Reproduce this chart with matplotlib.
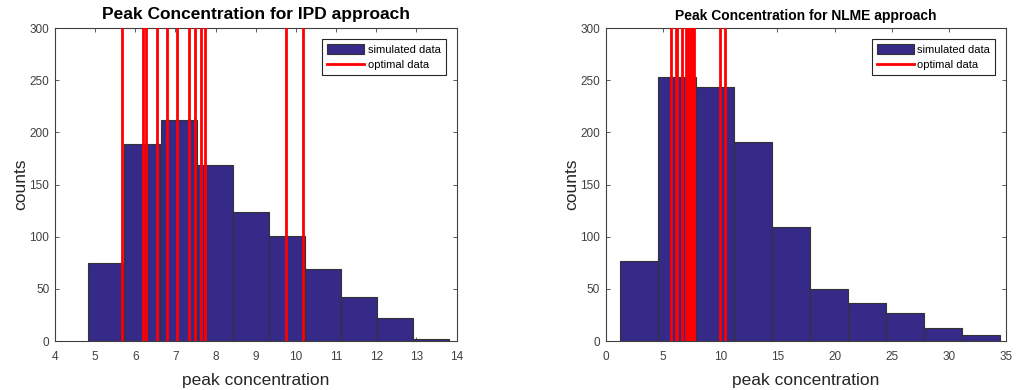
import matplotlib.pyplot as plt
from matplotlib.patches import Patch
from matplotlib.lines import Line2D

plt.rcParams['font.family'] = ['Liberation Sans', 'DejaVu Sans']

# IPD approach histogram
ipd_edges = [4.83, 5.73, 6.63, 7.53, 8.43, 9.33, 10.23, 11.12, 12.02, 12.92, 13.82]
ipd_counts = [75, 189, 212, 169, 124, 101, 69, 42, 22, 1.5]
ipd_optimal = [5.68, 6.20, 6.26, 6.55, 6.80, 7.03, 7.35, 7.49, 7.63, 7.74, 9.76, 10.18]

# NLME approach histogram
nlme_edges = [1.22, 4.54, 7.87, 11.19, 14.51, 17.84, 21.16, 24.48, 27.8, 31.13, 34.45]
nlme_counts = [77, 253, 243, 191, 109, 50, 36, 27, 12, 6]
nlme_optimal = [5.67, 6.16, 6.22, 6.66, 6.98, 7.18, 7.32, 7.45, 7.58, 7.68, 9.97, 10.38]

bar_color = '#352a87'
axis_color = '#262626'
tick_color = '#404040'


def draw_hist(ax, edges, counts, optimal, title, title_size, title_pad, xticks, xlim):
    widths = [b - a for a, b in zip(edges[:-1], edges[1:])]
    ax.bar(edges[:-1], counts, width=widths, align='edge', color=bar_color,
           edgecolor='#333333', linewidth=0.8, zorder=2)
    for v in optimal:
        ax.axvline(v, color='red', linewidth=2, zorder=3)

    ax.set_xlim(*xlim)
    ax.set_ylim(0, 300)
    ax.set_xticks(xticks)
    ax.set_yticks(range(0, 301, 50))
    ax.tick_params(direction='in', top=True, right=True, length=3,
                   labelsize=8.5, colors=tick_color, width=0.6)
    ax.tick_params(axis='x', pad=7.5)
    ax.tick_params(axis='y', pad=4)
    for s in ax.spines.values():
        s.set_color(tick_color)
        s.set_linewidth(0.8)
    ax.set_title(title, fontsize=title_size, fontweight='bold', pad=title_pad)
    ax.set_xlabel("peak concentration", fontsize=12.5, color=axis_color, labelpad=7)
    ax.set_ylabel("counts", fontsize=12.5, color=axis_color, labelpad=1)

    handles = [Patch(facecolor=bar_color, edgecolor='#333333', linewidth=0.8),
               Line2D([0], [0], color='red', linewidth=2)]
    leg = ax.legend(handles, ["simulated data", "optimal data"], loc='upper right',
                    fontsize=8, fancybox=False, framealpha=1, edgecolor='#262626',
                    handlelength=3.3, handleheight=1.0, borderaxespad=1.0,
                    labelspacing=0.4, handletextpad=0.35, borderpad=0.45)
    leg.get_frame().set_linewidth(0.8)
    leg.set_zorder(5)


fig = plt.figure(figsize=(10.17, 3.9), dpi=100)
ax1 = fig.add_axes([0.054, 0.1256, 0.395, 0.8026])
ax2 = fig.add_axes([0.5956, 0.1256, 0.394, 0.8026])

draw_hist(ax1, ipd_edges, ipd_counts, ipd_optimal,
          "Peak Concentration for IPD approach", 12.5, 6.5, range(4, 15), (4, 14))
draw_hist(ax2, nlme_edges, nlme_counts, nlme_optimal,
          "Peak Concentration for NLME approach", 10, 6, range(0, 36, 5), (0, 35))

fig.savefig("out.png", dpi=100)
